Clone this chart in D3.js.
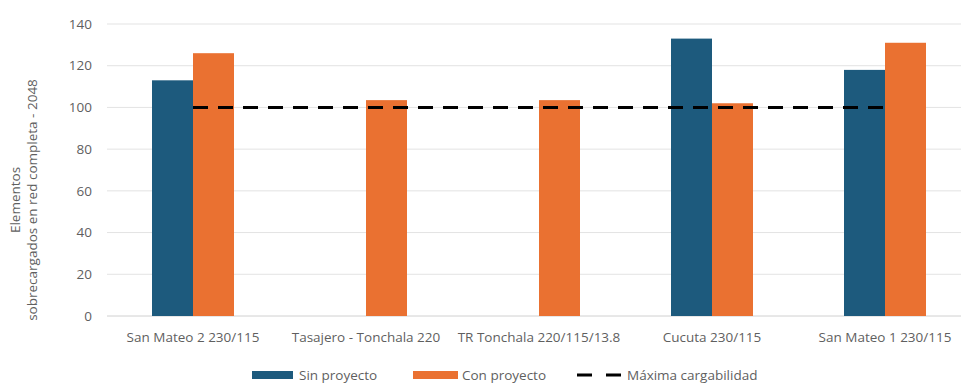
<!DOCTYPE html>
<html>
<head>
<meta charset="utf-8">
<script src="https://cdn.jsdelivr.net/npm/d3@7"></script>
<style>
  body { margin: 0; background: #fff; }
  text { font-family: "Open Sans", "Noto Sans", sans-serif; fill: #5f5f5f; }
</style>
</head>
<body>
<section></section>
<script>
const categories = ["San Mateo 2 230/115", "Tasajero - Tonchala 220", "TR Tonchala 220/115/13.8", "Cucuta 230/115", "San Mateo 1 230/115"];
const sinProyecto = [113, null, null, 133, 118];
const conProyecto = [126, 103.5, 103.5, 102, 131];
const maxCarga = [100, 100, 100, 100, 100];
const yTicks = [0, 20, 40, 60, 80, 100, 120, 140];
const seriesNames = ["Sin proyecto", "Con proyecto", "Máxima cargabilidad"];

const width = 961, height = 385;
const colors = { sin: "#1d5a7d", con: "#ea7131" };
const fs = 13.5;

const svg = d3.select("section").append("svg")
  .attr("width", width)
  .attr("height", height);

const x = d3.scaleBand()
  .domain(categories)
  .range([106.5, 971.5])
  .paddingInner(0.526)
  .paddingOuter(0.263);

const y = d3.scaleLinear()
  .domain([0, 140])
  .range([316, 24]);

const inner = d3.scaleBand()
  .domain(["sin", "con"])
  .range([0, x.bandwidth()]);

// gridlines
svg.append("g")
  .selectAll("line")
  .data(yTicks)
  .enter()
  .append("line")
  .attr("x1", 107)
  .attr("x2", width)
  .attr("y1", d => y(d))
  .attr("y2", d => y(d))
  .attr("stroke", d => d === 0 ? "#d0d0d0" : "#e3e3e3")
  .attr("stroke-width", 1);

// y tick labels
svg.append("g")
  .selectAll("text")
  .data(yTicks)
  .enter()
  .append("text")
  .attr("x", 92)
  .attr("y", d => y(d))
  .attr("dy", "0.35em")
  .attr("text-anchor", "end")
  .attr("font-size", fs)
  .text(d => d);

// bars
const groups = svg.append("g")
  .selectAll("g")
  .data(categories)
  .enter()
  .append("g")
  .attr("transform", d => "translate(" + x(d) + ",0)");

groups.each(function (c, i) {
  const g = d3.select(this);
  [["sin", sinProyecto[i]], ["con", conProyecto[i]]].forEach(([k, v]) => {
    if (v == null) return;
    g.append("rect")
      .attr("x", inner(k))
      .attr("y", y(v))
      .attr("width", inner.bandwidth())
      .attr("height", y(0) - y(v))
      .attr("fill", colors[k]);
  });
});

// max line
const line = d3.line()
  .x((d, i) => x(categories[i]) + x.bandwidth() / 2)
  .y(d => y(d));

svg.append("path")
  .datum(maxCarga)
  .attr("d", line)
  .attr("fill", "none")
  .attr("stroke", "#000")
  .attr("stroke-width", 3)
  .attr("stroke-dasharray", "15,10");

// category labels
svg.append("g")
  .selectAll("text")
  .data(categories)
  .enter()
  .append("text")
  .attr("x", d => x(d) + x.bandwidth() / 2)
  .attr("y", 337)
  .attr("dy", "0.35em")
  .attr("text-anchor", "middle")
  .attr("font-size", fs)
  .text(d => d);

// y axis title
const yt = svg.append("text")
  .attr("transform", "translate(23,200) rotate(-90)")
  .attr("text-anchor", "middle")
  .attr("font-size", fs);
yt.append("tspan").attr("x", 0).attr("dy", "-0.25em").text("Elementos");
yt.append("tspan").attr("x", 0).attr("dy", "1.3em").text("sobrecargados en red completa - 2048");

// legend
const legend = svg.append("g");
const ly = 375;
legend.append("rect").attr("x", 252).attr("y", ly - 4).attr("width", 41).attr("height", 8).attr("fill", colors.sin);
legend.append("text").attr("x", 299).attr("y", ly).attr("dy", "0.35em").attr("font-size", fs).text(seriesNames[0]);
legend.append("rect").attr("x", 413).attr("y", ly - 4).attr("width", 45).attr("height", 8).attr("fill", colors.con);
legend.append("text").attr("x", 462).attr("y", ly).attr("dy", "0.35em").attr("font-size", fs).text(seriesNames[1]);
legend.append("line").attr("x1", 577).attr("x2", 622).attr("y1", ly).attr("y2", ly)
  .attr("stroke", "#000").attr("stroke-width", 3).attr("stroke-dasharray", "15,14");
legend.append("text").attr("x", 627).attr("y", ly).attr("dy", "0.35em").attr("font-size", fs).text(seriesNames[2]);
</script>
</body>
</html>
